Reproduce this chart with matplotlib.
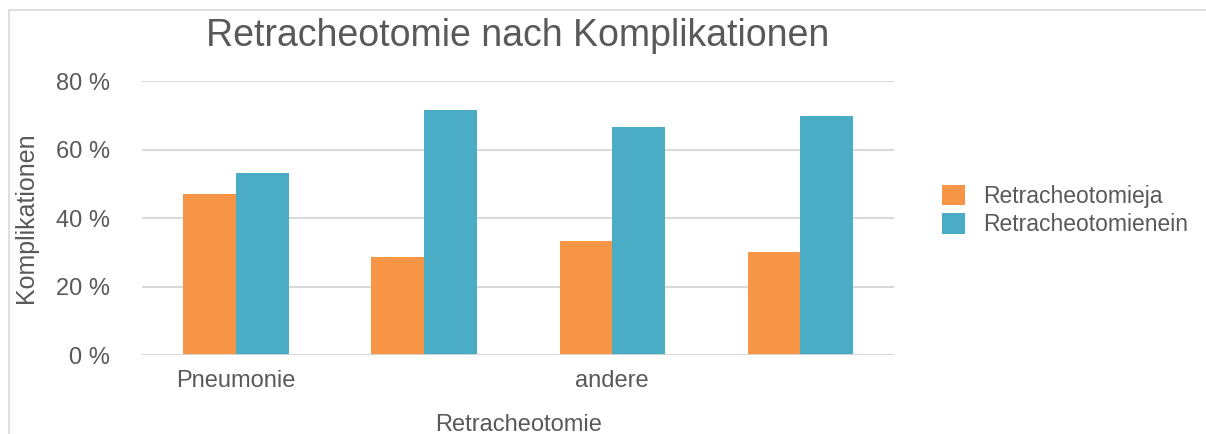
import matplotlib
matplotlib.use("Agg")
import matplotlib.pyplot as plt
import numpy as np
from matplotlib.patches import Rectangle

# data
categories = ["Pneumonie", "", "andere", ""]
series_names = ["Retracheotomieja", "Retracheotomienein"]
ja_values = [47.0, 28.5, 33.3, 30.2]
nein_values = [53.3, 71.5, 66.7, 69.8]
y_ticks = [0, 20, 40, 60, 80]

ORANGE = "#F79646"
BLUE = "#4BACC6"
TEXT = "#595959"
GRID = "#D9D9D9"

plt.rcParams["font.family"] = ["Liberation Sans", "DejaVu Sans"]

fig = plt.figure(figsize=(12.06, 4.34), dpi=100)
ax = fig.add_axes([0.1177, 0.182, 0.624, 0.631])

x = np.arange(len(categories))
w = 0.28
ax.bar(x - w / 2, ja_values, width=w, color=ORANGE, label=series_names[0], zorder=3)
ax.bar(x + w / 2, nein_values, width=w, color=BLUE, label=series_names[1], zorder=3)

ax.set_xlim(-0.5, len(categories) - 0.5)
ax.set_ylim(0, 80)
ax.set_yticks(y_ticks)
ax.set_yticklabels(["{} %".format(t) for t in y_ticks])
ax.set_xticks(x)
ax.set_xticklabels(categories)
ax.grid(axis="y", color=GRID, linewidth=1.5, zorder=0)
ax.set_axisbelow(True)
for s in ax.spines.values():
    s.set_visible(False)
ax.axhline(0, color=GRID, linewidth=2, zorder=4)
ax.tick_params(axis="both", length=0, labelsize=17, labelcolor=TEXT)
ax.tick_params(axis="y", pad=23)
ax.tick_params(axis="x", pad=11)

ax.set_ylabel("Komplikationen", fontsize=18, color=TEXT, labelpad=13)
fig.text(0.43, 0.02, "Retracheotomie", fontsize=17, color=TEXT,
         ha="center", va="center")
fig.text(0.429, 0.918, "Retracheotomie nach Komplikationen", fontsize=27,
         color=TEXT, ha="center", va="center")

ax.legend(loc="center left", bbox_to_anchor=(0.764, 0.515), bbox_transform=fig.transFigure,
          frameon=False, fontsize=16.5, labelcolor=TEXT, handlelength=1.0,
          handleheight=1.0, handletextpad=0.8, labelspacing=0.25)

# light frame of the chart area
fig.add_artist(Rectangle((0.0075, -0.05), 1.1, 1.027, transform=fig.transFigure,
                         fill=False, edgecolor="#D9D9D9", linewidth=1.2))

fig.savefig("out.png", dpi=100)
